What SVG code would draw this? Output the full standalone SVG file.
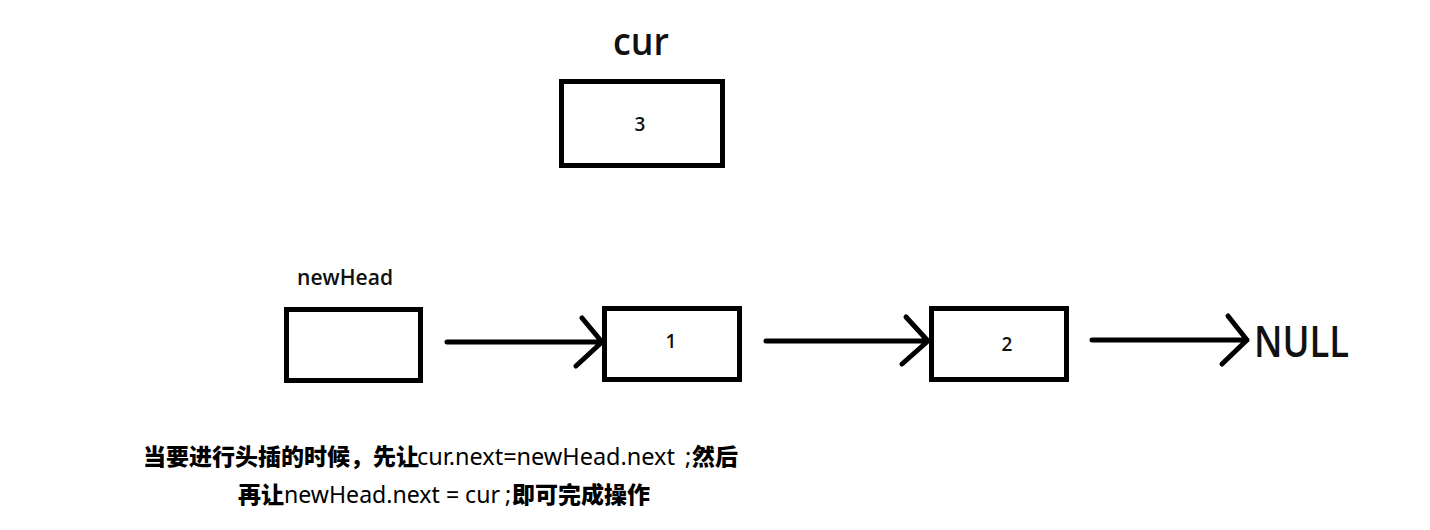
<svg xmlns="http://www.w3.org/2000/svg" width="1430" height="530" viewBox="0 0 1430 530">
<style>
.box{fill:#fff;stroke:#000;stroke-width:5}
.num{font-family:"Open Sans","Noto Sans",sans-serif;font-size:19px;font-weight:600;fill:#111;text-anchor:middle}
.lbl{font-family:"Open Sans","Noto Sans",sans-serif;font-weight:600;fill:#111}
.conn{fill:none;stroke:#000;stroke-width:5;stroke-linecap:round;stroke-linejoin:round}
.cjk{font-family:"Noto Sans CJK SC",sans-serif;font-weight:900;font-size:23px}
.lat{font-family:"Noto Sans","Open Sans",sans-serif;font-weight:normal;font-size:23.5px}
</style>
<rect width="1430" height="530" fill="#fff"/>
<g id="node-cur">
<text class="lbl" x="613" y="55" font-size="38" textLength="56" lengthAdjust="spacingAndGlyphs">cur</text>
<rect class="box" x="561.5" y="81.5" width="161" height="84"/>
<text class="num" x="640" y="131">3</text>
</g>
<g id="node-newHead">
<text class="lbl" x="297" y="285" font-size="21" textLength="96" lengthAdjust="spacingAndGlyphs">newHead</text>
<rect class="box" x="286.5" y="309.5" width="134" height="71"/>
</g>
<g id="node-1">
<rect class="box" x="604.5" y="308.5" width="135" height="71"/>
<text class="num" x="671" y="348">1</text>
</g>
<g id="node-2">
<rect class="box" x="931.5" y="308.5" width="135" height="71"/>
<text class="num" x="1007" y="351">2</text>
</g>
<g id="node-null">
<text class="lbl" x="1254" y="357" font-size="43" textLength="95" lengthAdjust="spacingAndGlyphs">NULL</text>
</g>
<g id="connectors">
<path class="conn" d="M447 342 H602 M582 318 L602 342 L576 366"/>
<path class="conn" d="M766 341 H928 M906 317 L928 341 L902 364"/>
<path class="conn" d="M1092 340 H1247 M1228 316 L1247 340 L1222 364"/>
</g>
<g id="caption">
<text y="465"><tspan class="cjk" x="143">当要进行头插的时候，先让</tspan><tspan class="lat" x="417" textLength="258" lengthAdjust="spacingAndGlyphs">cur.next=newHead.next</tspan><tspan class="lat" x="685">;</tspan><tspan class="cjk" x="692">然后</tspan></text>
<text y="503"><tspan class="cjk" x="238">再让</tspan><tspan class="lat" x="284" textLength="216" lengthAdjust="spacingAndGlyphs">newHead.next = cur</tspan><tspan class="lat" x="505">;</tspan><tspan class="cjk" x="512">即可完成操作</tspan></text>
</g>
</svg>
